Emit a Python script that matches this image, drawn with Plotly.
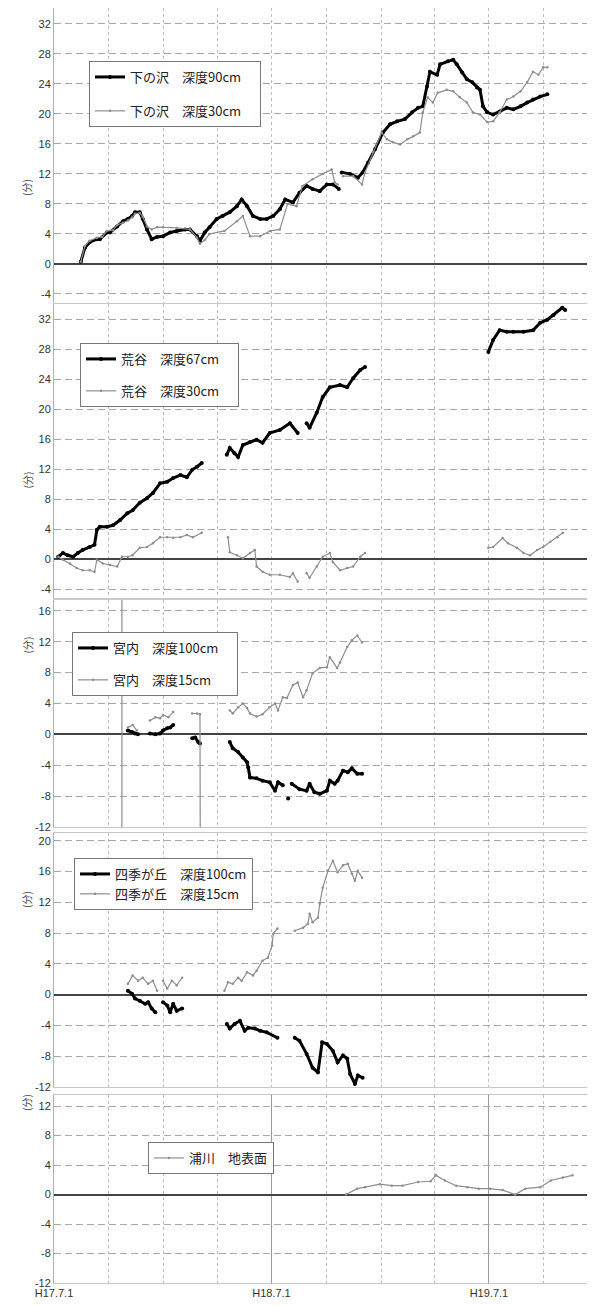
import plotly.graph_objects as go

# ---------------- data ----------------
# Panel 1: 下の沢
shimo90_dates = ["2005-08-15","2005-08-22","2005-08-30","2005-09-11","2005-09-16","2005-09-28","2005-10-03","2005-10-15","2005-10-25","2005-11-02","2005-11-09","2005-11-14","2005-11-22","2005-11-27","2005-12-04","2005-12-12","2005-12-21","2005-12-31","2006-01-12","2006-01-23","2006-02-06","2006-02-14","2006-02-26","2006-03-03","2006-03-11","2006-03-19","2006-03-31","2006-04-10","2006-04-22","2006-05-04","2006-05-12","2006-05-21","2006-05-31","2006-06-12","2006-06-23","2006-07-04","2006-07-15","2006-07-24","2006-08-06","2006-08-17","2006-08-29","2006-09-08","2006-09-20","2006-10-02","2006-10-12","2006-10-22","2006-10-25","2006-10-27","2006-11-10","2006-11-23","2006-12-01","2006-12-10","2006-12-22","2007-01-04","2007-01-16","2007-01-28","2007-02-10","2007-02-22","2007-03-04","2007-03-12","2007-03-19","2007-03-24","2007-04-05","2007-04-10","2007-04-23","2007-05-02","2007-05-08","2007-05-17","2007-05-25","2007-06-03","2007-06-11","2007-06-16","2007-06-21","2007-06-28","2007-07-08","2007-07-19","2007-07-31","2007-08-11","2007-08-23","2007-09-03","2007-09-13","2007-09-25","2007-10-07"]
shimo90_vals = [0.3,2.2,2.9,3.3,3.3,4.2,4.2,5.0,5.7,6.0,6.4,6.9,6.9,6.0,4.6,3.3,3.6,3.7,4.2,4.4,4.6,4.6,3.7,3.1,4.2,4.9,6.0,6.4,6.9,7.7,8.6,7.7,6.4,6.0,6.0,6.4,7.3,8.6,8.2,9.5,10.4,10.0,9.7,10.6,10.6,10.0,None,12.2,12.0,11.5,12.2,13.5,15.3,17.5,18.6,19.0,19.3,20.2,20.8,21.0,23.6,25.6,25.2,26.6,27.0,27.2,26.6,25.5,24.6,24.2,23.5,23.2,21.0,20.2,19.9,20.3,20.8,20.6,21.0,21.5,21.9,22.3,22.6]

shimo30_dates = ["2005-08-15","2005-08-22","2005-08-30","2005-09-11","2005-09-20","2005-09-28","2005-10-08","2005-10-15","2005-10-25","2005-11-02","2005-11-09","2005-11-14","2005-11-22","2005-11-27","2005-12-04","2005-12-12","2005-12-21","2005-12-31","2006-01-23","2006-02-14","2006-02-26","2006-03-03","2006-03-11","2006-03-19","2006-04-13","2006-05-04","2006-05-14","2006-05-26","2006-06-12","2006-06-29","2006-07-15","2006-07-28","2006-08-12","2006-08-22","2006-09-08","2006-09-25","2006-10-10","2006-10-15","2006-10-20","2006-10-25","2006-10-29","2006-11-15","2006-11-30","2006-12-05","2006-12-19","2007-01-02","2007-01-11","2007-01-21","2007-02-02","2007-02-14","2007-02-24","2007-03-07","2007-03-12","2007-03-20","2007-03-29","2007-04-06","2007-04-21","2007-05-02","2007-05-13","2007-05-25","2007-06-04","2007-06-16","2007-06-28","2007-07-08","2007-07-19","2007-07-31","2007-08-11","2007-08-23","2007-09-03","2007-09-13","2007-09-22","2007-09-30","2007-10-07"]
shimo30_vals = [0.3,2.4,3.1,3.5,3.6,4.4,4.5,5.2,5.5,5.8,6.2,6.7,6.8,6.3,5.0,4.6,4.9,4.9,4.8,4.6,3.5,2.7,3.2,4.0,4.4,5.7,6.4,3.7,3.7,4.4,4.6,8.0,7.7,10.4,11.3,12.0,12.6,10.9,10.6,None,11.7,11.7,10.6,12.2,14.9,17.5,16.6,16.2,15.9,16.6,17.0,17.5,20.2,22.2,21.5,22.8,23.2,23.0,22.2,21.5,20.2,19.9,18.9,19.0,20.2,21.9,22.3,23.0,24.2,25.6,25.2,26.2,26.2]

# Panel 2: 荒谷
aradani67_dates = ["2005-07-08","2005-07-16","2005-07-24","2005-08-02","2005-08-10","2005-08-18","2005-08-30","2005-09-07","2005-09-11","2005-09-16","2005-09-28","2005-10-08","2005-10-20","2005-11-01","2005-11-10","2005-11-22","2005-12-04","2005-12-14","2005-12-26","2006-01-07","2006-01-17","2006-01-29","2006-02-09","2006-02-18","2006-02-26","2006-03-06","2006-03-25","2006-04-17","2006-04-22","2006-04-30","2006-05-06","2006-05-14","2006-05-26","2006-06-06","2006-06-16","2006-06-28","2006-07-15","2006-08-01","2006-08-14","2006-08-20","2006-08-29","2006-09-03","2006-09-15","2006-09-25","2006-10-07","2006-10-24","2006-11-05","2006-11-15","2006-11-27","2006-12-05","2007-03-01","2007-06-30","2007-07-08","2007-07-19","2007-07-31","2007-08-11","2007-08-28","2007-09-13","2007-09-25","2007-10-07","2007-10-17","2007-11-01","2007-11-06"]
aradani67_vals = [0.3,0.8,0.5,0.3,0.8,1.2,1.6,1.9,3.9,4.3,4.3,4.5,5.2,6.1,6.5,7.5,8.1,8.8,10.1,10.3,10.8,11.2,10.9,11.9,12.3,12.8,None,13.9,14.8,14.1,13.6,15.2,15.6,15.9,15.5,16.8,17.2,18.1,16.8,None,18.1,17.5,19.5,21.6,22.9,23.2,22.9,24.1,25.2,25.6,None,27.6,29.2,30.5,30.3,30.3,30.3,30.5,31.5,31.9,32.5,33.5,33.2]

aradani30_dates = ["2005-07-08","2005-07-16","2005-07-28","2005-08-08","2005-08-18","2005-08-30","2005-09-07","2005-09-11","2005-09-21","2005-10-03","2005-10-15","2005-10-23","2005-11-02","2005-11-10","2005-11-22","2005-12-04","2005-12-14","2005-12-26","2006-01-07","2006-01-17","2006-01-29","2006-02-09","2006-02-19","2006-03-06","2006-03-25","2006-04-19","2006-04-22","2006-05-04","2006-05-14","2006-05-26","2006-06-03","2006-06-06","2006-06-16","2006-06-28","2006-07-15","2006-08-01","2006-08-06","2006-08-14","2006-08-20","2006-08-29","2006-09-03","2006-09-15","2006-09-25","2006-10-07","2006-10-12","2006-10-24","2006-11-05","2006-11-15","2006-11-27","2006-12-05","2007-03-01","2007-06-30","2007-07-08","2007-07-24","2007-08-02","2007-08-17","2007-08-28","2007-09-08","2007-09-20","2007-09-30","2007-10-12","2007-10-24","2007-11-02"]
aradani30_vals = [0.3,-0.1,-0.6,-1.2,-1.5,-1.5,-1.7,-0.1,-0.6,-0.8,-1.0,0.3,0.3,0.5,1.5,1.6,2.1,2.9,2.9,2.8,2.9,3.2,2.9,3.5,None,2.9,0.9,0.5,0.1,0.8,1.2,-1.0,-1.7,-2.1,-2.1,-2.4,-1.9,-3.0,None,-1.9,-2.5,-1.0,0.3,0.8,-0.4,-1.5,-1.2,-1.0,0.3,0.8,None,1.5,1.6,2.8,2.1,1.5,0.8,0.5,1.2,1.6,2.3,2.9,3.5]

# Panel 3: 宮内
miyauchi100_dates = ["2005-11-02","2005-11-09","2005-11-14","2005-11-19","2005-11-28","2005-12-09","2005-12-18","2005-12-26","2005-12-31","2006-01-07","2006-01-12","2006-01-17","2006-02-05","2006-02-18","2006-02-23","2006-02-28","2006-03-03","2006-04-01","2006-04-22","2006-04-27","2006-05-06","2006-05-14","2006-05-21","2006-05-23","2006-05-26","2006-06-06","2006-06-16","2006-06-28","2006-07-07","2006-07-12","2006-07-20","2006-07-25","2006-07-29","2006-08-01","2006-08-04","2006-08-17","2006-08-29","2006-09-03","2006-09-11","2006-09-20","2006-10-02","2006-10-07","2006-10-15","2006-10-20","2006-10-29","2006-11-06","2006-11-13","2006-11-22","2006-11-30"]
miyauchi100_vals = [0.5,0.3,0.1,0.0,None,0.1,0.0,0.1,0.5,0.8,0.9,1.2,None,-0.5,-0.4,-1.0,-1.2,None,-1.0,-1.8,-2.3,-3.0,-3.6,-4.3,-5.6,-5.7,-6.0,-6.2,-7.3,-6.2,-6.6,None,-8.3,None,-6.4,-7.1,-7.3,-6.4,-7.5,-7.7,-7.3,-6.0,-6.4,-6.0,-4.7,-4.9,-4.4,-5.1,-5.1]

miyauchi15_dates = ["2005-10-23","2005-10-23","2005-10-28","2005-11-02","2005-11-10","2005-11-17","2005-11-28","2005-12-09","2005-12-18","2005-12-26","2005-12-31","2006-01-09","2006-01-17","2006-02-05","2006-02-18","2006-02-26","2006-03-03","2006-03-04","2006-04-01","2006-04-22","2006-04-27","2006-05-06","2006-05-14","2006-05-21","2006-05-26","2006-06-06","2006-06-16","2006-06-28","2006-07-07","2006-07-12","2006-07-20","2006-07-27","2006-08-06","2006-08-14","2006-08-23","2006-08-29","2006-09-08","2006-09-20","2006-10-02","2006-10-07","2006-10-19","2006-10-24","2006-11-05","2006-11-13","2006-11-22","2006-11-30"]
miyauchi15_vals = [30,-30,None,0.9,1.2,0.5,None,1.8,2.2,2.1,2.5,2.2,2.9,None,2.7,2.7,2.6,-30,None,3.1,2.7,3.5,4.0,3.4,2.7,2.3,2.6,3.5,4.0,3.1,4.8,4.7,6.4,6.7,4.8,5.7,7.9,8.6,8.7,10.0,8.6,9.3,11.3,12.2,12.8,11.9]

# Panel 4: 四季が丘
shiki100_dates = ["2005-11-02","2005-11-09","2005-11-14","2005-11-22","2005-12-01","2005-12-06","2005-12-12","2005-12-18","2005-12-25","2005-12-31","2006-01-07","2006-01-12","2006-01-17","2006-01-23","2006-02-01","2006-03-01","2006-04-17","2006-04-22","2006-04-30","2006-05-09","2006-05-17","2006-05-23","2006-06-03","2006-06-12","2006-06-23","2006-07-11","2006-07-25","2006-08-09","2006-08-17","2006-08-29","2006-09-08","2006-09-17","2006-09-24","2006-10-02","2006-10-12","2006-10-20","2006-10-29","2006-11-05","2006-11-10","2006-11-18","2006-11-23","2006-12-01"]
shiki100_vals = [0.5,0.1,-0.5,-0.8,-1.2,-1.0,-1.8,-2.3,None,-1.0,-1.4,-2.3,-1.2,-2.1,-1.8,None,-3.8,-4.4,-3.8,-3.4,-4.7,-4.3,-4.4,-4.7,-4.9,-5.6,None,-5.6,-6.0,-7.7,-9.5,-10.1,-6.2,-6.4,-7.3,-8.8,-7.9,-8.3,-10.3,-11.6,-10.5,-10.8]

shiki15_dates = ["2005-11-02","2005-11-10","2005-11-19","2005-11-27","2005-12-06","2005-12-14","2005-12-21","2005-12-26","2005-12-31","2006-01-07","2006-01-15","2006-01-23","2006-02-01","2006-03-01","2006-04-13","2006-04-19","2006-04-27","2006-05-06","2006-05-12","2006-05-21","2006-05-31","2006-06-06","2006-06-16","2006-06-25","2006-07-02","2006-07-04","2006-07-11","2006-07-25","2006-08-09","2006-08-23","2006-08-31","2006-09-03","2006-09-08","2006-09-17","2006-09-20","2006-09-25","2006-10-04","2006-10-12","2006-10-20","2006-10-29","2006-11-06","2006-11-13","2006-11-18","2006-11-23","2006-11-30"]
shiki15_vals = [1.4,2.5,1.8,2.2,1.4,1.8,0.5,None,1.8,0.8,1.8,1.2,2.2,None,0.5,1.6,1.4,2.2,1.8,2.9,2.5,3.1,4.4,4.8,6.4,7.9,8.6,None,8.3,8.7,9.2,10.5,9.4,10.0,11.8,13.9,16.1,17.4,15.9,16.8,17.0,15.7,14.8,16.1,15.2]

# Panel 5: 浦川
urakawa_dates = ["2006-11-03","2006-11-22","2006-12-05","2006-12-30","2007-01-19","2007-02-06","2007-03-04","2007-03-25","2007-04-03","2007-04-18","2007-05-07","2007-05-26","2007-06-14","2007-07-03","2007-07-24","2007-08-14","2007-08-31","2007-09-25","2007-10-13","2007-11-02","2007-11-18"]
urakawa_vals = [0.0,0.8,1.0,1.4,1.2,1.2,1.7,1.8,2.6,1.9,1.2,1.0,0.8,0.8,0.6,0.0,0.8,1.0,1.9,2.3,2.6]

# axis ticks
x_tick_dates = ["2005-07-01", "2006-07-01", "2007-07-01"]
x_tick_labels = ["H17.7.1", "H18.7.1", "H19.7.1"]
x_range = ["2005-07-01", "2007-12-26"]
y_ranges = [[-5.2, 34.1], [-5.2, 34.0], [-12, 17.4], [-12, 21.0], [-12, 13.5]]
y_ticks = [list(range(-4, 33, 4)), list(range(-4, 33, 4)), list(range(-12, 17, 4)),
           list(range(-12, 21, 4)), list(range(-12, 13, 4))]

# ---------------- figure ----------------
BLACK = "#000000"
GRAY = "#8e8e8e"
JP = "Noto Sans CJK JP"

fig = go.Figure()

def add(dates, vals, name, idx, dark):
    fig.add_trace(go.Scatter(
        x=dates, y=vals, name=name, mode="lines+markers",
        line=dict(color=BLACK if dark else GRAY, width=3 if dark else 1.2),
        marker=dict(color=BLACK if dark else GRAY, size=4 if dark else 2.5),
        connectgaps=False,
        xaxis="x" if idx == 1 else f"x{idx}",
        yaxis="y" if idx == 1 else f"y{idx}",
        legend="legend" if idx == 1 else f"legend{idx}",
        legendgroup=name,
    ))

PAD = "\u2002\u2002"
add(shimo90_dates, shimo90_vals, "下の沢\u3000深度90cm" + PAD, 1, True)
add(shimo30_dates, shimo30_vals, "下の沢\u3000深度30cm" + PAD, 1, False)
add(aradani67_dates, aradani67_vals, "荒谷\u3000深度67cm" + PAD, 2, True)
add(aradani30_dates, aradani30_vals, "荒谷\u3000深度30cm" + PAD, 2, False)
add(miyauchi100_dates, miyauchi100_vals, "宮内\u3000深度100cm" + PAD, 3, True)
add(miyauchi15_dates, miyauchi15_vals, "宮内\u3000深度15cm" + PAD, 3, False)
add(shiki100_dates, shiki100_vals, "四季が丘\u3000深度100cm", 4, True)
add(shiki15_dates, shiki15_vals, "四季が丘\u3000深度15cm", 4, False)
add(urakawa_dates, urakawa_vals, "浦川\u3000地表面", 5, False)

# page has an 8px body margin: figure = 587x1298 placed at (8, 8)
OFF = 8
PLOT_BOTTOM = 1283          # page px of bottom axis
PLOT_H = 1275
panel_px = [(8, 303), (304, 598), (600, 827), (833, 1087), (1095, 1283)]

def py(p):
    return (PLOT_BOTTOM - p) / PLOT_H

layout = dict(
    width=595 - OFF, height=1306 - OFF,
    margin=dict(l=54 - OFF, r=0, t=8 - OFF, b=(1306 - OFF) - (PLOT_BOTTOM - OFF), autoexpand=False),
    paper_bgcolor="white", plot_bgcolor="white",
    font=dict(family="Liberation Sans, Arial", size=11, color="#333"),
    showlegend=True,
)

for i in range(1, 6):
    top, bot = panel_px[i - 1]
    xa = dict(
        type="date", range=x_range, domain=[0, 1], automargin=False,
        anchor="y" if i == 1 else f"y{i}",
        showline=True, mirror=True, linecolor="#c8c8c8", linewidth=1,
        ticks="", showgrid=True,
        gridcolor="#bdbdbd", griddash="dot", gridwidth=1,
        zeroline=False,
    )
    if i == 5:
        xa.update(tickmode="array", tickvals=x_tick_dates, ticktext=x_tick_labels,
                  gridcolor="#9a9a9a", griddash="solid", matches="x",
                  tickfont=dict(size=11, color="#333", family="Liberation Sans, Arial"),
                  minor=dict(dtick="M3", tick0="2005-07-01", showgrid=True,
                             gridcolor="#bdbdbd", griddash="dot", gridwidth=1))
    elif i == 1:
        xa.update(dtick="M3", tick0="2005-07-01", showticklabels=False)
    else:
        xa.update(dtick="M3", tick0="2005-07-01", showticklabels=False, matches="x")
    ya = dict(
        domain=[py(bot), py(top)], range=y_ranges[i - 1], automargin=False,
        anchor="x" if i == 1 else f"x{i}",
        tickmode="array", tickvals=y_ticks[i - 1],
        ticktext=[str(v) for v in y_ticks[i - 1]],
        showline=True, mirror=True, linecolor="#b0b0b0", linewidth=1,
        showgrid=True, gridcolor="#a8a8a8", griddash="7px,4px", gridwidth=1,
        zeroline=True, zerolinecolor="#444", zerolinewidth=1.5,
        tickfont=dict(size=11, color="#333"), ticks="",
    )
    layout["xaxis" if i == 1 else f"xaxis{i}"] = xa
    layout["yaxis" if i == 1 else f"yaxis{i}"] = ya

legend_boxes = [(89, 61, 14), (80, 343, 12), (72, 632, 12), (74, 858, 0), (148, 1142, 0)]
for i, (lx, ly, gap) in enumerate(legend_boxes, start=1):
    layout["legend" if i == 1 else f"legend{i}"] = dict(
        x=(lx - 54) / 541, y=py(ly), xanchor="left", yanchor="top",
        bgcolor="white", bordercolor="#777", borderwidth=1,
        font=dict(family=JP, size=13, color="#222"),
        tracegroupgap=gap, itemwidth=30,
    )

title_y = [177, 480, 645, 910, 1113]
layout["annotations"] = [
    dict(text="(分)", xref="paper", yref="paper", x=(17 - 54) / 541, y=py(t),
         showarrow=False, textangle=-90, font=dict(family=JP, size=10, color="#444"))
    for t in title_y
]

fig.update_layout(**layout)
fig.write_html("out.html")
